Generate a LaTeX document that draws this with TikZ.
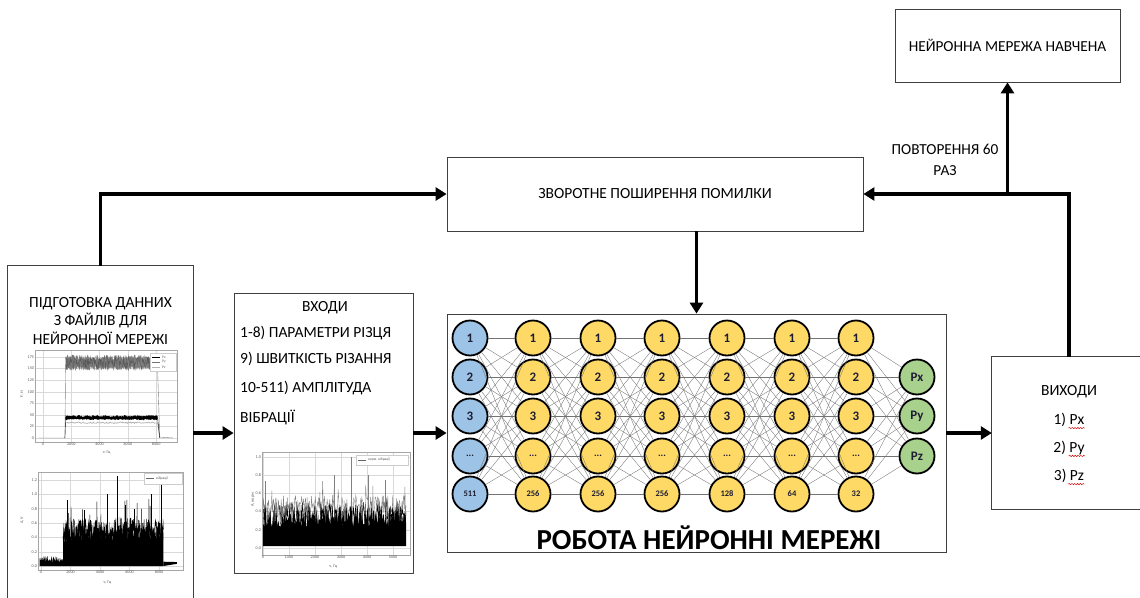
\documentclass[tikz,border=0pt]{standalone}
\usepackage{fontspec}
\setmainfont{Carlito}
\usetikzlibrary{arrows.meta,calc,decorations.pathmorphing}
\definecolor{blueN}{RGB}{157,195,230}
\definecolor{yellowN}{RGB}{255,217,102}
\definecolor{greenN}{RGB}{169,209,142}
\definecolor{labN}{RGB}{30,30,50}
\begin{document}
\begin{tikzpicture}[x=1pt,y=-1pt,
  boxline/.style={draw=black!75, line width=0.8pt},
  plainbox/.style={boxline, rectangle, inner sep=0pt, align=center},
  arr/.style={line width=3.6pt, -{Triangle[length=11pt,width=13pt]}},
  neuron/.style={circle, draw=black, line width=1.8pt, minimum size=35pt, inner sep=0pt,
     font=\bfseries\fontsize{13}{13}\selectfont, text=labN},
  edge/.style={draw=black!55, line width=0.35pt},
  gridl/.style={draw=black!15, line width=0.3pt},
  plotframe/.style={draw=black!35, line width=0.35pt},
  ticklab/.style={font=\fontsize{4.2}{5}\selectfont, text=black!65, inner sep=0.8pt},
  legl/.style={font=\fontsize{3.6}{4}\selectfont, text=black!65, inner sep=0pt, anchor=west},
  squig/.style={draw=red!85!black, line width=0.45pt, decorate,
     decoration={snake, amplitude=0.7pt, segment length=2.8pt}},
  txt/.style={font=\fontsize{15.5}{18.5}\selectfont, inner sep=0pt}
]
\useasboundingbox (0,0) rectangle (1140,597);
\pgfmathsetseed{7}

% ---------------- boxes ----------------
\node[rectangle, inner sep=0pt, minimum width=185pt, minimum height=334pt] (prep) at (100.5,433) {};
\draw[boxline] (prep.south west) -- (prep.north west) -- (prep.north east) -- (prep.south east);
\node[txt, align=center] (preptxt) at (100.5,321)
  {ПІДГОТОВКА ДАННИХ\\З ФАЙЛІВ ДЛЯ\\НЕЙРОННОЇ МЕРЕЖІ};

\node[plainbox, minimum width=179pt, minimum height=280pt] (inp) at (323.5,433) {};
\node[txt] (inh) at (325,308) {ВХОДИ};
\node[txt, anchor=west] (in1) at (240,333) {1-8) ПАРАМЕТРИ РІЗЦЯ};
\node[txt, anchor=west] (in2) at (240,359) {9) ШВИТКІСТЬ РІЗАННЯ};
\node[txt, anchor=west] (in3) at (240,388) {10-511) АМПЛІТУДА};
\node[txt, anchor=west] (in4) at (240,417) {ВІБРАЦІЇ};

\node[plainbox, minimum width=416pt, minimum height=74pt, font=\fontsize{15.5}{18}\selectfont] (back) at (655,194)
  {ЗВОРОТНЕ ПОШИРЕННЯ ПОМИЛКИ};

\node[plainbox, minimum width=225pt, minimum height=73pt, font=\fontsize{15.3}{18}\selectfont] (trained) at (1007.5,45.5)
  {НЕЙРОННА МЕРЕЖА НАВЧЕНА};

\node[plainbox, minimum width=499pt, minimum height=238pt] (nn) at (696.5,433) {};
\node[inner sep=0pt, font=\bfseries\fontsize{29}{32}\selectfont] (nntitle) at (709,538) {РОБОТА НЕЙРОННІ МЕРЕЖІ};

\node[rectangle, inner sep=0pt, minimum width=154pt, minimum height=152pt] (outb) at (1069,433) {};
\draw[boxline] (outb.north east) -- (outb.north west) -- (outb.south west) -- (outb.south east);
\node[txt] (outh) at (1069,392) {ВИХОДИ};
\node[txt] (r1) at (1069,420) {1) Px};
\node[txt] (r2) at (1069,448) {2) Py};
\node[txt] (r3) at (1069,476) {3) Pz};
\foreach \r in {r1,r2,r3}
  \draw[squig] ($(\r.base east)+(-16,3.5)$) -- ($(\r.base east)+(0,3.5)$);

\node[txt, font=\fontsize{15.3}{21}\selectfont, align=center] (reptxt) at (945,160) {ПОВТОРЕННЯ 60\\РАЗ};

% ---------------- arrows ----------------
\draw[arr] (prep.north) |- (back.west);
\draw[arr] (prep.east) -- (inp.west);
\draw[arr] (inp.east) -- (nn.west);
\draw[arr] (back.south -| nn.north) -- (nn.north);
\draw[arr] (nn.east) -- (outb.west);
\draw[arr] (outb.north) |- (back.east);
\coordinate (junc) at (trained.south |- back.east);
\draw[arr] (junc) -- (trained.south);

% ---------------- neural network ----------------
\foreach \c/\xx/\last/\col in {0/470/511/blueN, 1/533/256/yellowN, 2/598/256/yellowN,
    3/662/256/yellowN, 4/727/128/yellowN, 5/792/64/yellowN, 6/856/32/yellowN} {
  \foreach \r/\yy/\lab in {1/338/1, 2/377/2, 3/416/3, 4/456/{\fontsize{10}{10}\selectfont...},
      5/494/{\fontsize{8.5}{9}\selectfont\last}} {
    \node[neuron, fill=\col] (n\c-\r) at (\xx,\yy) {\lab};
  }
}
\node[neuron, fill=greenN] (o1) at (917,377) {Px};
\node[neuron, fill=greenN] (o2) at (917,416) {Py};
\node[neuron, fill=greenN] (o3) at (917,456) {Pz};
\foreach \c [evaluate=\c as \d using int(\c+1)] in {0,...,5}
  \foreach \r in {1,...,5}
    \foreach \s in {1,...,5}
      \draw[edge] (n\c-\r) -- (n\d-\s);
\foreach \r in {1,...,5}
  \foreach \s in {1,2,3}
    \draw[edge] (n6-\r) -- (o\s);

% ---------------- plot 1 (forces) ----------------
\begin{scope}[shift={(43pt,-438pt)}, x=0.01415pt, y=0.463pt]
  \draw[gridl] foreach \v in {0,2000,...,8000} {(\v,-8.6) -- (\v,190)};
  \draw[gridl] foreach \v in {0,25,...,175} {(-565,\v) -- (9470,\v)};
  \draw[black!50, line width=0.4pt] (-300,0) -- (1550,0) -- (1600,160);
  \draw[black!50, line width=0.4pt] (8100,150) -- (8250,2) -- (9200,0);
  \fill[black!50] plot[domain=1600:8100, samples=170] (\x,{174+6*rand})
     -- plot[domain=8100:1600, samples=170] (\x,{150+5*rand}) -- cycle;
  \draw[black!65, line width=0.2pt] plot[domain=1600:8100, samples=300] (\x,{163+16*rand});
  \draw[black!30, line width=0.7pt] (1600,33) -- plot[domain=1600:8100, samples=120] (\x,{33+1.5*rand}) -- (8250,1);
  \fill[black] plot[domain=1600:8100, samples=130] (\x,{47.5+2*rand})
     -- plot[domain=8100:1600, samples=130] (\x,{40+1.5*rand}) -- cycle;
  \draw[black, line width=0.4pt] (1550,0) -- (1600,45);
  \draw[black, line width=0.4pt] (8100,44) -- (8250,1);
  \draw[plotframe] (-565,-8.6) rectangle (9470,190);
  \foreach \v in {0,2000,...,8000} \node[ticklab, below] at (\v,-8.6) {\v};
  \foreach \v in {0,25,...,175} \node[ticklab, left] at (-565,\v) {\v};
  \node[ticklab, rotate=90] at (-1480,95) {F, H};
  \node[ticklab] at (4500,-32) {ν, Гц};
\end{scope}
\draw[draw=black!20, fill=white, line width=0.3pt] (150,353) rectangle (176,371);
\draw[black, line width=0.4pt] (152,357) -- (160,357);
\draw[black!55, line width=0.4pt] (152,362) -- (160,362);
\draw[black!30, line width=0.4pt] (152,367) -- (160,367);
\node[legl] at (162,357) {Px};
\node[legl] at (162,362) {Py};
\node[legl] at (162,367) {Pz};

% ---------------- plot 2 (vibration) ----------------
\begin{scope}[shift={(41pt,-566pt)}, x=0.01475pt, y=71.7pt]
  \draw[gridl] foreach \v in {0,2000,...,8000} {(\v,-0.056) -- (\v,1.31)};
  \draw[gridl] foreach \v in {0.0,0.2,0.4,0.6,0.8,1.0,1.2} {(-203,\v) -- (9627,\v)};
  \fill[black] (-100,0) -- plot[domain=-100:1500, samples=70] (\x,{0.04+0.1*rnd}) -- (1500,0) -- cycle;
  \fill[black] (1500,0) -- plot[domain=1500:8300, samples=260] (\x,{0.32+0.3*rnd}) -- (8300,0) -- cycle;
  \draw[black, line width=0.4pt] plot[domain=1500:8300, samples=420] (\x,{0.22+0.45*rnd+0.45*(rnd>0.9)*rnd});
  \draw[black, line width=0.5pt] foreach \p/\h in {1800/0.92,2900/0.78,4500/1.0,5150/1.25,5700/0.85,6300/0.8,7500/1.0,8150/1.15}
     {(\p,0.3) -- (\p,\h)};
  \fill[black] (8300,0) -- (8300,0.06) -- (9200,0.055) -- (9200,0.03) -- cycle;
  \draw[plotframe] (-203,-0.056) rectangle (9627,1.31);
  \foreach \v in {0,2000,...,8000} \node[ticklab, below] at (\v,-0.056) {\v};
  \foreach \v in {0.0,0.2,0.4,0.6,0.8,1.0,1.2} \node[ticklab, left] at (-203,\v) {\v};
  \node[ticklab, rotate=90] at (-1290,0.64) {A, V};
  \node[ticklab] at (4500,-0.23) {ν, Гц};
\end{scope}
\draw[draw=black!20, fill=white, line width=0.3pt] (144,473) rectangle (182,484);
\draw[black!60, line width=0.4pt] (146,478.5) -- (154,478.5);
\node[legl] at (156,478.5) {вібрації};

% ---------------- plot 3 (normalised vibration) ----------------
\begin{scope}[shift={(263pt,-548pt)}, x=0.026pt, y=91pt]
  \draw[gridl] foreach \v in {0,1000,...,5000} {(\v,-0.077) -- (\v,1.055)};
  \draw[gridl] foreach \v in {0.0,0.2,0.4,0.6,0.8,1.0} {(-38,\v) -- (5654,\v)};
  \draw[black!50, line width=0.35pt] plot[domain=0:5500, samples=260] (\x,{0.3+0.28*rnd+0.25*(rnd>0.9)*rnd});
  \draw[black!50, line width=0.5pt] foreach \p/\h in {100/0.74,2750/0.8,3400/1.0,4050/0.8,4700/0.75}
     {(\p,0.3) -- (\p,\h)};
  \fill[black] (0,0.02) -- plot[domain=0:5500, samples=250] (\x,{0.22+0.24*rnd}) -- (5500,0.02) -- cycle;
  \draw[black, line width=0.3pt] plot[domain=0:5500, samples=380] (\x,{0.1+0.4*rnd});
  \draw[plotframe] (-38,-0.077) rectangle (5654,1.055);
  \foreach \v in {0,1000,...,5000} \node[ticklab, below] at (\v,-0.077) {\v};
  \foreach \v in {0.0,0.2,0.4,0.6,0.8,1.0} \node[ticklab, left] at (-38,\v) {\v};
  \node[ticklab, rotate=90] at (-390,0.53) {A, норм};
  \node[ticklab] at (2700,-0.2) {ν, Гц};
\end{scope}
\draw[draw=black!20, fill=white, line width=0.3pt] (356,455) rectangle (408,465);
\draw[black!60, line width=0.4pt] (358,460) -- (366,460);
\node[legl] at (368,460) {норм. вібрації};
\end{tikzpicture}
\end{document}
